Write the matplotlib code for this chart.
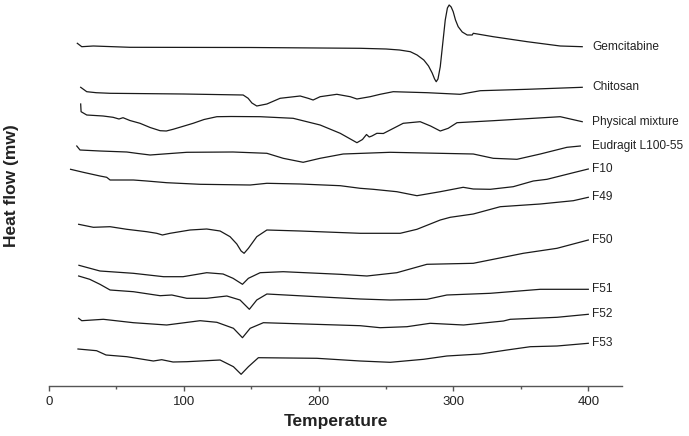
import numpy as np
import matplotlib
matplotlib.use("Agg")
import matplotlib.pyplot as plt
from matplotlib.ticker import MultipleLocator

plt.rcParams['font.family'] = ['Liberation Sans', 'DejaVu Sans']

# DSC thermograms: temperature (C) and heat flow (arbitrary, stacked offsets)
gem_t = [21.0, 24.3, 32.9, 60, 150, 231, 250, 260, 268, 273, 278, 281.5, 284.2, 286, 287.2, 288.5,
         290.2, 292, 293.9, 295.5, 296.8, 298.3, 299.8, 301.5, 303.5, 306.5, 310.2, 313.9, 314.7,
         329.5, 354.7, 379.2, 395.5]
gem_h = [342.7, 339.3, 340, 338.7, 338.5, 337.7, 337, 336, 334.3, 331, 326, 320, 313, 307, 304.3, 307,
         319.3, 342, 366, 378, 381, 379, 374.3, 366, 359.3, 354, 351, 351, 352.7,
         349.3, 344.3, 340, 339.3]

chi_t = [23.5, 28.0, 35.0, 45.3, 100, 144, 147.7, 150.5, 154.1, 161.6, 171.4, 186.3, 192.2, 195.9, 201.1,
         213.5, 223.4, 228.4, 238.2, 245.6, 255.3, 280.5, 305.0, 319.9, 354.7, 395.5]
chi_h = [298.7, 294.3, 293.3, 292.7, 292, 291, 287.7, 283, 280, 282, 287.7, 290, 287.7, 286, 289.3,
         291.7, 289.3, 287, 289.3, 291.7, 294.3, 293.3, 291.7, 295.3, 296.7, 298.7]

pm_t = [23.5, 23.8, 28.0, 40.1, 47.5, 51.9, 54.9, 60.0, 67.5, 75.0, 82.4, 87.0, 92.0, 99.0, 106.9,
        115.0, 124.5, 135.0, 156.6, 181.1, 201.1, 216.0, 228.4, 232.5, 235.5, 237.5, 239.5, 243.2,
        248, 262.7, 275.3, 283, 290.2, 296.1, 302.6, 329.5, 379.2, 395.5]
pm_h = [282, 274.3, 271, 270, 268.7, 267, 268.3, 265.5, 262.7, 258.5, 255.3, 255, 256.7, 259.5, 262.7,
        266.5, 269.3, 269.5, 269.3, 267.7, 261, 252.7, 243.3, 246.5, 251.5, 249, 250, 252.7,
        252.5, 262.7, 264.3, 260, 255, 257.7, 263.3, 265.3, 269.3, 264.3]

eud_t = [20.6, 23.0, 37.8, 57.7, 66.0, 75.0, 85.0, 102.2, 136.5, 161.6, 173.7, 188.5, 201.1, 218.2,
         253.1, 314.7, 329.5, 347.1, 364.4, 384.2, 394.1]
eud_h = [240, 236, 235, 234, 232.5, 231, 232, 233.7, 234, 232.7, 227.7, 223.7, 227.7, 232,
         233.7, 232, 227.7, 226.7, 232, 238.7, 240]

f10_t = [16.0, 25.4, 37.8, 42.8, 45.3, 62.6, 72.5, 87.3, 112.1, 149.2, 161.6, 186.3, 216.0, 230.8,
         240.4, 258.0, 272.9, 290.2, 307.2, 314.7, 327.3, 344.3, 359.2, 369.4, 388.9, 400]
f10_h = [216.7, 213.7, 210, 208.7, 206, 206, 205, 203.3, 201.7, 201, 202.7, 202, 200.3, 197.7,
         196.7, 194.3, 190.3, 194.3, 198.7, 197, 196.7, 199.3, 205, 206.7, 213.3, 217]

f49_t = [22.0, 32.9, 45.3, 57.7, 72.5, 79.9, 84.1, 89.8, 104.6, 117.0, 126.9, 134.3, 139.3, 142.5,
         144.7, 147.9, 154.1, 161.6, 186.3, 230.8, 260.5, 272.9, 290.2, 297.6, 314.7, 334.7, 364.4,
         388.9, 400]
f49_h = [161.7, 158.7, 159.3, 156.7, 154.3, 152.7, 151, 152.7, 156, 157, 155, 149.3, 142, 135,
         132.7, 137.7, 149.3, 156, 155, 152.7, 152.7, 156.7, 166, 168.7, 172, 179.3, 182,
         185.3, 188.7]

f50_t = [22.2, 37.8, 62.5, 85.0, 99.4, 117.0, 129.1, 136.5, 143.5, 147.9, 156.6, 173.7, 216.0, 235.8,
         258.0, 280.3, 314.7, 351.8, 376.8, 400]
f50_h = [120.7, 115, 112.7, 109.3, 109.3, 113.3, 112, 107.7, 101.7, 107.7, 113.3, 114.3, 111.7, 110,
         113.3, 121.7, 122.7, 132.7, 137.7, 146]

f51_t = [22.0, 30.2, 37.8, 45.3, 62.6, 82.4, 91.1, 102.2, 117.0, 131.9, 141.7, 148.6, 154.1, 161.6,
         198.7, 230.8, 253.1, 280.3, 295.1, 327.3, 364.4, 400]
f51_h = [110, 106.7, 101.7, 96, 94.3, 90.3, 91, 87.7, 87.7, 90, 86, 76.7, 86, 92,
         89.3, 87, 86, 86.7, 91, 92.7, 96.7, 96.7]

f52_t = [22.0, 24.3, 40.3, 62.6, 87.3, 112.1, 124.5, 136.8, 143.5, 149.2, 159.0, 230.8, 245.6, 265.5,
         282.7, 307.5, 337.1, 342.1, 376.8, 400]
f52_h = [67.7, 65.3, 66.7, 63.3, 61, 65.3, 63.7, 57.7, 48.3, 57.7, 63.3, 60.3, 58.3, 59.3,
         62.7, 61, 65, 66.7, 68.7, 71.7]

f53_t = [21.5, 35.3, 42.3, 57.7, 77.4, 83.6, 92.0, 102.2, 126.9, 136.8, 142.5, 147.9, 155.3, 198.7,
         230.8, 253.1, 277.8, 295.1, 319.9, 339.7, 357.0, 376.8, 400]
f53_h = [37, 35.3, 31, 29.3, 25, 26.3, 24, 24.3, 26, 19.3, 11.7, 19.3, 28.3, 27.7,
         25, 23.7, 26.7, 30, 32, 36, 39.3, 40, 42.7]

names = ["Gemcitabine", "Chitosan", "Physical mixture", "Eudragit L100-55",
         "F10", "F49", "F50", "F51", "F52", "F53"]
curves = [(gem_t, gem_h), (chi_t, chi_h), (pm_t, pm_h), (eud_t, eud_h), (f10_t, f10_h),
          (f49_t, f49_h), (f50_t, f50_h), (f51_t, f51_h), (f52_t, f52_h), (f53_t, f53_h)]

fig = plt.figure(figsize=(6.89, 4.36), dpi=100)
ax = fig.add_axes([49 / 689, 50 / 436, 573 / 689, 386 / 436])

for name, (t, h) in zip(names, curves):
    ax.plot(t, h, color='#1a1a1a', lw=0.9, solid_joinstyle='round')
    ax.text(403, h[-1], name, fontsize=8.6, color='#222222', ha='left', va='center')

ax.set_xlim(0, 425)
ax.set_ylim(0, 386)
ax.xaxis.set_major_locator(MultipleLocator(100))
ax.xaxis.set_minor_locator(MultipleLocator(50))
ax.set_yticks([])
for s in ['left', 'top', 'right']:
    ax.spines[s].set_visible(False)
ax.spines['bottom'].set_color('#555555')
ax.spines['bottom'].set_linewidth(1.0)
ax.tick_params(axis='x', which='major', length=3.5, width=1.0, color='#555555',
               labelsize=9.5, labelcolor='#222222', pad=4)
ax.tick_params(axis='x', which='minor', length=2, width=1.0, color='#555555')

fig.text(336 / 689, 1 - 421 / 436, "Temperature", fontsize=12.5, fontweight='bold',
         ha='center', va='center', color='#222222')
fig.text(12 / 689, 1 - 186 / 436, "Heat flow (mw)", fontsize=12.5, fontweight='bold',
         ha='center', va='center', rotation=90, color='#222222')

fig.savefig("out.png", dpi=100)
